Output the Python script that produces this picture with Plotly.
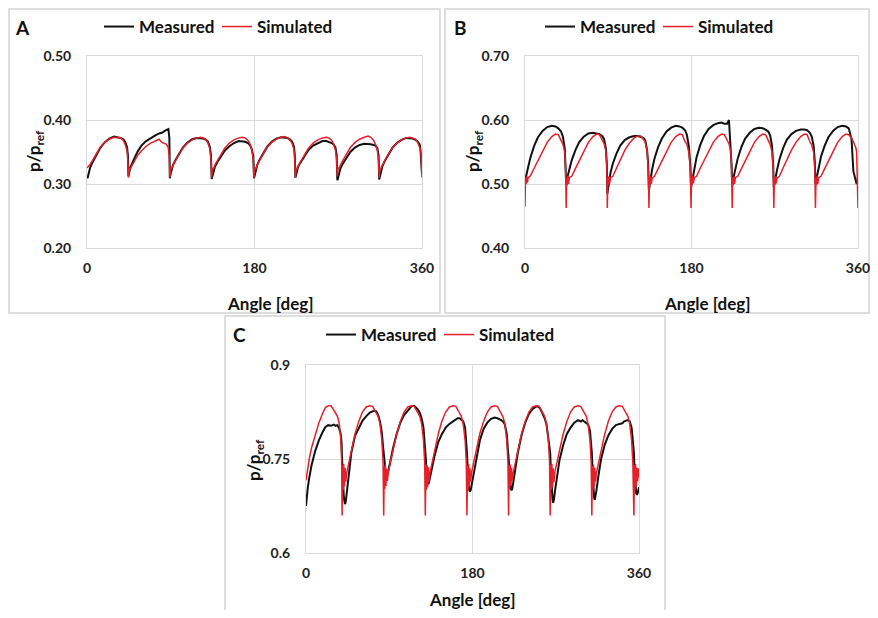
import plotly.graph_objects as go

# ---------------- Panel A / B shared angle grid (deg) ----------------
angle_ab = [
    0, 0.6, 1.2, 1.8, 2.5, 3.5, 6, 10, 14, 19, 24, 29, 33, 36, 39, 41, 43, 44,
    44.5, 45.1, 45.7, 46.3, 47, 48, 50.5, 54.5, 58.5, 63.5, 68.5, 73.5, 77.5, 80.5, 83.5, 85.5, 87.5, 88.5,
    89, 89.6, 90.2, 90.8, 91.5, 92.5, 95, 99, 103, 108, 113, 118, 122, 125, 128, 130, 132, 133.2,
    134, 134.6, 135.2, 135.8, 136.5, 137.5, 140, 144, 148, 153, 158, 163, 167, 170, 173, 175, 177, 178.7,
    179.5, 180.1, 180.7, 181.3, 182, 183, 185.5, 189.5, 193.5, 198.5, 203.5, 208.5, 212.5, 215.5, 218.5, 220.5, 222.5, 223.3,
    224, 224.6, 225.2, 225.8, 226.5, 227.5, 230, 234, 238, 243, 248, 253, 257, 260, 263, 265, 267, 268.3,
    269, 269.6, 270.2, 270.8, 271.5, 272.5, 275, 279, 283, 288, 293, 298, 302, 305, 308, 310, 312, 313.3,
    314, 314.6, 315.2, 315.8, 316.5, 317.5, 320, 324, 328, 333, 338, 343, 347, 350, 353, 355, 357, 357.8,
    358.5, 359.2, 360,
]

a_measured = [
    0.312, 0.309, 0.313, 0.318, 0.322, 0.326, 0.334, 0.346, 0.356, 0.365, 0.371, 0.374, 0.373, 0.372, 0.370, 0.366, 0.358, 0.345,
    0.312, 0.318, 0.322, 0.324, 0.327, 0.331, 0.339, 0.351, 0.360, 0.367, 0.372, 0.376, 0.379, 0.380, 0.383, 0.384, 0.386, 0.372,
    0.309, 0.314, 0.318, 0.321, 0.325, 0.330, 0.337, 0.348, 0.357, 0.365, 0.370, 0.372, 0.372, 0.371, 0.369, 0.366, 0.358, 0.345,
    0.308, 0.312, 0.316, 0.320, 0.323, 0.327, 0.334, 0.344, 0.352, 0.359, 0.364, 0.367, 0.367, 0.366, 0.364, 0.361, 0.355, 0.343,
    0.309, 0.313, 0.317, 0.321, 0.325, 0.330, 0.338, 0.349, 0.358, 0.366, 0.371, 0.373, 0.373, 0.372, 0.369, 0.366, 0.358, 0.345,
    0.310, 0.315, 0.319, 0.322, 0.325, 0.329, 0.335, 0.345, 0.353, 0.360, 0.364, 0.367, 0.367, 0.366, 0.364, 0.362, 0.357, 0.345,
    0.306, 0.308, 0.312, 0.316, 0.320, 0.325, 0.332, 0.342, 0.350, 0.357, 0.361, 0.363, 0.363, 0.362, 0.361, 0.360, 0.356, 0.345,
    0.307, 0.311, 0.315, 0.319, 0.323, 0.328, 0.336, 0.347, 0.356, 0.364, 0.369, 0.372, 0.372, 0.371, 0.369, 0.367, 0.363, 0.360,
    0.350, 0.330, 0.315,
]

a_simulated = [
    0.325, 0.326, 0.327, 0.328, 0.329, 0.331, 0.337, 0.348, 0.357, 0.365, 0.370, 0.373, 0.373, 0.372, 0.368, 0.362, 0.352, 0.335,
    0.310, 0.321, 0.325, 0.323, 0.326, 0.328, 0.334, 0.345, 0.352, 0.359, 0.364, 0.368, 0.370, 0.365, 0.363, 0.362, 0.356, 0.340,
    0.310, 0.322, 0.326, 0.324, 0.327, 0.330, 0.336, 0.347, 0.356, 0.364, 0.369, 0.372, 0.373, 0.372, 0.369, 0.364, 0.355, 0.340,
    0.310, 0.321, 0.325, 0.324, 0.326, 0.330, 0.336, 0.347, 0.356, 0.364, 0.369, 0.372, 0.373, 0.372, 0.368, 0.363, 0.354, 0.338,
    0.310, 0.322, 0.326, 0.323, 0.327, 0.330, 0.337, 0.348, 0.357, 0.365, 0.370, 0.373, 0.374, 0.372, 0.368, 0.363, 0.354, 0.338,
    0.310, 0.321, 0.325, 0.324, 0.326, 0.330, 0.336, 0.347, 0.356, 0.364, 0.369, 0.372, 0.373, 0.372, 0.368, 0.362, 0.353, 0.337,
    0.312, 0.322, 0.326, 0.324, 0.327, 0.330, 0.337, 0.348, 0.357, 0.365, 0.370, 0.373, 0.375, 0.373, 0.368, 0.362, 0.353, 0.337,
    0.310, 0.321, 0.325, 0.324, 0.327, 0.330, 0.336, 0.347, 0.356, 0.364, 0.369, 0.372, 0.373, 0.372, 0.370, 0.366, 0.360, 0.356,
    0.352, 0.340, 0.310,
]

b_measured = [
    0.510, 0.508, 0.512, 0.515, 0.520, 0.527, 0.542, 0.560, 0.573, 0.583, 0.589, 0.591, 0.590, 0.587, 0.582, 0.574, 0.555, 0.530,
    0.500, 0.505, 0.510, 0.514, 0.518, 0.524, 0.537, 0.553, 0.565, 0.574, 0.579, 0.580, 0.579, 0.578, 0.575, 0.570, 0.555, 0.530,
    0.485, 0.490, 0.500, 0.506, 0.512, 0.518, 0.532, 0.548, 0.560, 0.569, 0.573, 0.575, 0.575, 0.574, 0.572, 0.568, 0.553, 0.530,
    0.490, 0.496, 0.503, 0.510, 0.516, 0.523, 0.540, 0.558, 0.571, 0.582, 0.588, 0.591, 0.590, 0.588, 0.584, 0.577, 0.560, 0.530,
    0.495, 0.500, 0.506, 0.512, 0.517, 0.524, 0.542, 0.561, 0.575, 0.586, 0.592, 0.595, 0.596, 0.594, 0.594, 0.600, 0.555, 0.530,
    0.500, 0.503, 0.508, 0.512, 0.517, 0.524, 0.540, 0.558, 0.571, 0.580, 0.586, 0.588, 0.587, 0.585, 0.582, 0.576, 0.560, 0.530,
    0.495, 0.500, 0.505, 0.510, 0.515, 0.522, 0.538, 0.556, 0.569, 0.578, 0.583, 0.585, 0.585, 0.584, 0.580, 0.574, 0.560, 0.535,
    0.500, 0.504, 0.510, 0.515, 0.520, 0.527, 0.543, 0.560, 0.573, 0.583, 0.589, 0.591, 0.590, 0.587, 0.570, 0.520, 0.505, 0.500,
    0.500, 0.505, 0.510,
]

b_simulated = [
    0.465, 0.510, 0.500, 0.512, 0.502, 0.510, 0.513, 0.525, 0.537, 0.552, 0.565, 0.574, 0.578, 0.577, 0.567, 0.562, 0.550, 0.525,
    0.4625, 0.510, 0.498, 0.513, 0.500, 0.510, 0.512, 0.524, 0.536, 0.552, 0.565, 0.574, 0.578, 0.577, 0.568, 0.563, 0.551, 0.525,
    0.4625, 0.511, 0.499, 0.512, 0.501, 0.510, 0.512, 0.525, 0.537, 0.553, 0.564, 0.572, 0.575, 0.575, 0.570, 0.565, 0.552, 0.525,
    0.4625, 0.510, 0.498, 0.512, 0.500, 0.509, 0.512, 0.524, 0.536, 0.552, 0.565, 0.574, 0.578, 0.577, 0.566, 0.562, 0.550, 0.525,
    0.4625, 0.511, 0.499, 0.513, 0.501, 0.510, 0.512, 0.525, 0.537, 0.552, 0.565, 0.574, 0.578, 0.577, 0.567, 0.563, 0.551, 0.525,
    0.4625, 0.510, 0.498, 0.512, 0.500, 0.510, 0.512, 0.524, 0.536, 0.552, 0.565, 0.574, 0.578, 0.577, 0.568, 0.562, 0.550, 0.525,
    0.4625, 0.511, 0.499, 0.512, 0.501, 0.509, 0.512, 0.525, 0.537, 0.553, 0.565, 0.574, 0.578, 0.577, 0.566, 0.561, 0.550, 0.525,
    0.4625, 0.510, 0.498, 0.513, 0.500, 0.510, 0.512, 0.524, 0.536, 0.552, 0.565, 0.574, 0.578, 0.577, 0.572, 0.566, 0.560, 0.556,
    0.550, 0.520, 0.4625,
]

# ---------------- Panel C angle grid (deg) ----------------
angle_c = [
    0, 1, 2, 3.5, 6, 10, 14, 18, 21, 24, 27, 30, 32, 34, 36, 37.5, 38.5,
    39, 39.6, 40.2, 40.8, 41.5, 42.2, 43, 44, 46, 49, 53, 57, 61, 65, 69, 72, 74, 76, 78, 80, 82, 83.3,
    84, 84.6, 85.2, 85.8, 86.5, 87.2, 88, 89, 91, 94, 98, 102, 106, 110, 114, 117, 119, 121, 123, 125, 127, 128.3,
    129, 129.6, 130.2, 130.8, 131.5, 132.2, 133, 134, 136, 139, 143, 147, 151, 155, 159, 162, 164, 166, 168, 170, 172, 173.3,
    174, 174.6, 175.2, 175.8, 176.5, 177.2, 178, 179, 181, 184, 188, 192, 196, 200, 204, 207, 209, 211, 213, 215, 217, 218.3,
    219, 219.6, 220.2, 220.8, 221.5, 222.2, 223, 224, 226, 229, 233, 237, 241, 245, 249, 252, 254, 256, 258, 260, 262, 263.3,
    264, 264.6, 265.2, 265.8, 266.5, 267.2, 268, 269, 271, 274, 278, 282, 286, 290, 294, 297, 299, 301, 303, 305, 307, 308.3,
    309, 309.6, 310.2, 310.8, 311.5, 312.2, 313, 314, 316, 319, 323, 327, 331, 335, 339, 342, 344, 346, 348, 350, 352, 353.3,
    354.5, 355.1, 355.7, 356.3, 357, 357.7, 358.5, 359.3, 360,
]

c_measured = [
    0.675, 0.692, 0.705, 0.720, 0.740, 0.763, 0.780, 0.793, 0.801, 0.804, 0.803, 0.805, 0.803, 0.804, 0.798, 0.790, 0.775,
    0.750, 0.725, 0.705, 0.692, 0.683, 0.678, 0.682, 0.695, 0.730, 0.760, 0.787, 0.800, 0.811, 0.818, 0.824, 0.826, 0.827, 0.826, 0.820, 0.810, 0.792, 0.770,
    0.760, 0.745, 0.735, 0.728, 0.724, 0.722, 0.725, 0.732, 0.745, 0.767, 0.790, 0.808, 0.820, 0.828, 0.834, 0.835, 0.832, 0.829, 0.824, 0.815, 0.800, 0.780,
    0.770, 0.750, 0.730, 0.718, 0.712, 0.710, 0.713, 0.720, 0.735, 0.755, 0.777, 0.790, 0.800, 0.806, 0.810, 0.813, 0.815, 0.815, 0.813, 0.810, 0.800, 0.780,
    0.760, 0.740, 0.720, 0.707, 0.700, 0.698, 0.700, 0.708, 0.725, 0.752, 0.780, 0.798, 0.808, 0.814, 0.816, 0.815, 0.814, 0.812, 0.810, 0.805, 0.790, 0.770,
    0.760, 0.740, 0.720, 0.708, 0.702, 0.700, 0.703, 0.712, 0.732, 0.760, 0.788, 0.808, 0.822, 0.830, 0.834, 0.833, 0.828, 0.822, 0.815, 0.805, 0.785, 0.765,
    0.760, 0.735, 0.712, 0.695, 0.685, 0.680, 0.685, 0.697, 0.720, 0.748, 0.772, 0.790, 0.800, 0.808, 0.812, 0.810, 0.812, 0.810, 0.808, 0.805, 0.795, 0.775,
    0.760, 0.735, 0.712, 0.697, 0.688, 0.685, 0.690, 0.700, 0.722, 0.750, 0.773, 0.788, 0.798, 0.804, 0.806, 0.807, 0.810, 0.811, 0.812, 0.810, 0.800, 0.780,
    0.760, 0.735, 0.715, 0.700, 0.695, 0.693, 0.695, 0.700, 0.705,
]

c_simulated = [
    0.716, 0.728, 0.738, 0.750, 0.768, 0.790, 0.808, 0.823, 0.832, 0.835, 0.835, 0.828, 0.823, 0.818, 0.806, 0.785, 0.750,
    0.660, 0.740, 0.700, 0.742, 0.706, 0.736, 0.714, 0.728, 0.742, 0.765, 0.790, 0.810, 0.825, 0.833, 0.835, 0.834, 0.828, 0.823, 0.818, 0.806, 0.780, 0.745,
    0.660, 0.738, 0.702, 0.741, 0.707, 0.734, 0.715, 0.729, 0.743, 0.766, 0.790, 0.810, 0.825, 0.833, 0.835, 0.834, 0.828, 0.822, 0.818, 0.806, 0.780, 0.745,
    0.660, 0.741, 0.701, 0.740, 0.705, 0.737, 0.713, 0.728, 0.742, 0.765, 0.790, 0.811, 0.825, 0.833, 0.835, 0.834, 0.827, 0.823, 0.818, 0.805, 0.780, 0.745,
    0.660, 0.739, 0.700, 0.742, 0.706, 0.735, 0.714, 0.729, 0.742, 0.765, 0.791, 0.810, 0.825, 0.833, 0.835, 0.834, 0.828, 0.823, 0.817, 0.806, 0.780, 0.745,
    0.660, 0.740, 0.702, 0.741, 0.707, 0.736, 0.715, 0.728, 0.743, 0.766, 0.790, 0.810, 0.825, 0.833, 0.835, 0.834, 0.828, 0.822, 0.818, 0.806, 0.781, 0.745,
    0.660, 0.741, 0.701, 0.742, 0.705, 0.735, 0.713, 0.729, 0.742, 0.765, 0.790, 0.810, 0.825, 0.833, 0.835, 0.834, 0.828, 0.823, 0.818, 0.805, 0.780, 0.745,
    0.660, 0.739, 0.700, 0.741, 0.706, 0.736, 0.714, 0.728, 0.742, 0.765, 0.790, 0.811, 0.825, 0.833, 0.835, 0.834, 0.827, 0.823, 0.818, 0.806, 0.780, 0.745,
    0.660, 0.740, 0.700, 0.742, 0.706, 0.736, 0.714, 0.735, 0.720,
]

series_names = ["Measured", "Simulated"]
panel_letters = ["A", "B", "C"]
x_ticks = [0, 180, 360]
a_yticks = [0.2, 0.3, 0.4, 0.5]
b_yticks = [0.4, 0.5, 0.6, 0.7]
c_yticks = [0.6, 0.75, 0.9]
c_yticktext = ["0.6", "0.75", "0.9"]

BLACK = "#111111"
RED = "#e5202a"
GRID = "#d9d9d9"
FONT = "Lato"
# The page body has an 8px margin on every side: the figure is sized to fit inside
# the window and positions below are given in window pixels, shifted by that offset.
OFF = 8
W, H = 878 - 2 * OFF, 618 - 2 * OFF


def px(x):
    return (x - OFF) / W


def py(y):
    return 1 - (y - OFF) / H


fig = go.Figure()

panels = [
    dict(ax="", angle=angle_ab, meas=a_measured, sim=a_simulated, legend="legend"),
    dict(ax="2", angle=angle_ab, meas=b_measured, sim=b_simulated, legend="legend2"),
    dict(ax="3", angle=angle_c, meas=c_measured, sim=c_simulated, legend="legend3"),
]
for p in panels:
    fig.add_trace(go.Scatter(x=p["angle"], y=p["meas"], mode="lines", name=series_names[0],
                             line=dict(color=BLACK, width=2), xaxis="x" + p["ax"], yaxis="y" + p["ax"],
                             legend=p["legend"]))
    fig.add_trace(go.Scatter(x=p["angle"], y=p["sim"], mode="lines", name=series_names[1],
                             line=dict(color=RED, width=1.5), xaxis="x" + p["ax"], yaxis="y" + p["ax"],
                             legend=p["legend"]))

axis_common = dict(showgrid=True, gridcolor=GRID, gridwidth=1, showline=True, linecolor=GRID,
                   linewidth=1, mirror=True, zeroline=False, ticks="", automargin=False,
                   ticklabeloverflow="allow",
                   tickfont=dict(family=FONT, size=14, color="#222222", weight="bold"))

# plot areas in window pixels: (left, right, top, bottom)
areas = {"": (87, 422, 56, 248), "2": (525, 858, 56, 248), "3": (306, 639, 365, 553)}
yspec = {"": (a_yticks, [f"{v:.2f}" for v in a_yticks]),
         "2": (b_yticks, [f"{v:.2f}" for v in b_yticks]),
         "3": (c_yticks, c_yticktext)}

layout = dict(width=W, height=H, margin=dict(l=0, r=0, t=0, b=0, autoexpand=False),
              paper_bgcolor="white", plot_bgcolor="white", showlegend=True)
for k, (l, r, t, b) in areas.items():
    tv, tt = yspec[k]
    layout["xaxis" + k] = dict(axis_common, domain=[px(l), px(r)], range=[0, 360],
                               tickvals=x_ticks, ticktext=[str(v) for v in x_ticks],
                               anchor="y" + k, ticklabelstandoff=7)
    layout["yaxis" + k] = dict(axis_common, domain=[py(b), py(t)], range=[tv[0], tv[-1]],
                               tickvals=tv, ticktext=tt, anchor="x" + k, ticklabelstandoff=12)

leg_common = dict(orientation="h", yanchor="middle", xanchor="left", bgcolor="rgba(0,0,0,0)",
                  font=dict(family=FONT, size=17, color="#111111", weight="bold"), entrywidth=73,
                  entrywidthmode="pixels", itemwidth=30, tracegroupgap=0)
layout["legend"] = dict(leg_common, x=px(99), y=py(27))
layout["legend2"] = dict(leg_common, x=px(540), y=py(27))
layout["legend3"] = dict(leg_common, x=px(321), y=py(335))
fig.update_layout(**layout)

# Panel frames
frame = dict(type="rect", xref="paper", yref="paper", line=dict(color="#d4d4d4", width=1.5),
             fillcolor="rgba(0,0,0,0)", layer="below")
fig.add_shape(frame, x0=px(9), x1=px(440), y0=py(313), y1=py(9))
fig.add_shape(frame, x0=px(445), x1=px(869), y0=py(313), y1=py(9))
fig.add_shape(frame, x0=px(225), x1=px(665), y0=py(625), y1=py(316))

# Panel letters and axis titles
title_font = dict(family=FONT, size=17, color="#111111")
ann = dict(xref="paper", yref="paper", showarrow=False, xanchor="center", yanchor="middle")
letters = [(22, 27), (460, 27), (239, 335)]
for (x, y), lt in zip(letters, panel_letters):
    fig.add_annotation(ann, text=f"<b>{lt}</b>", x=px(x), y=py(y),
                       font=dict(family=FONT, size=19, color="#111111"))
for x, y in [(270, 303), (707, 303), (473, 599)]:
    fig.add_annotation(ann, text="<b>Angle [deg]</b>", x=px(x), y=py(y), font=title_font)
for x, y in [(35, 151), (474, 151), (255, 460)]:
    fig.add_annotation(ann, text="<b>p/p<sub>ref</sub></b>", x=px(x), y=py(y),
                       textangle=-90, font=title_font)

fig.write_html("out.html")
